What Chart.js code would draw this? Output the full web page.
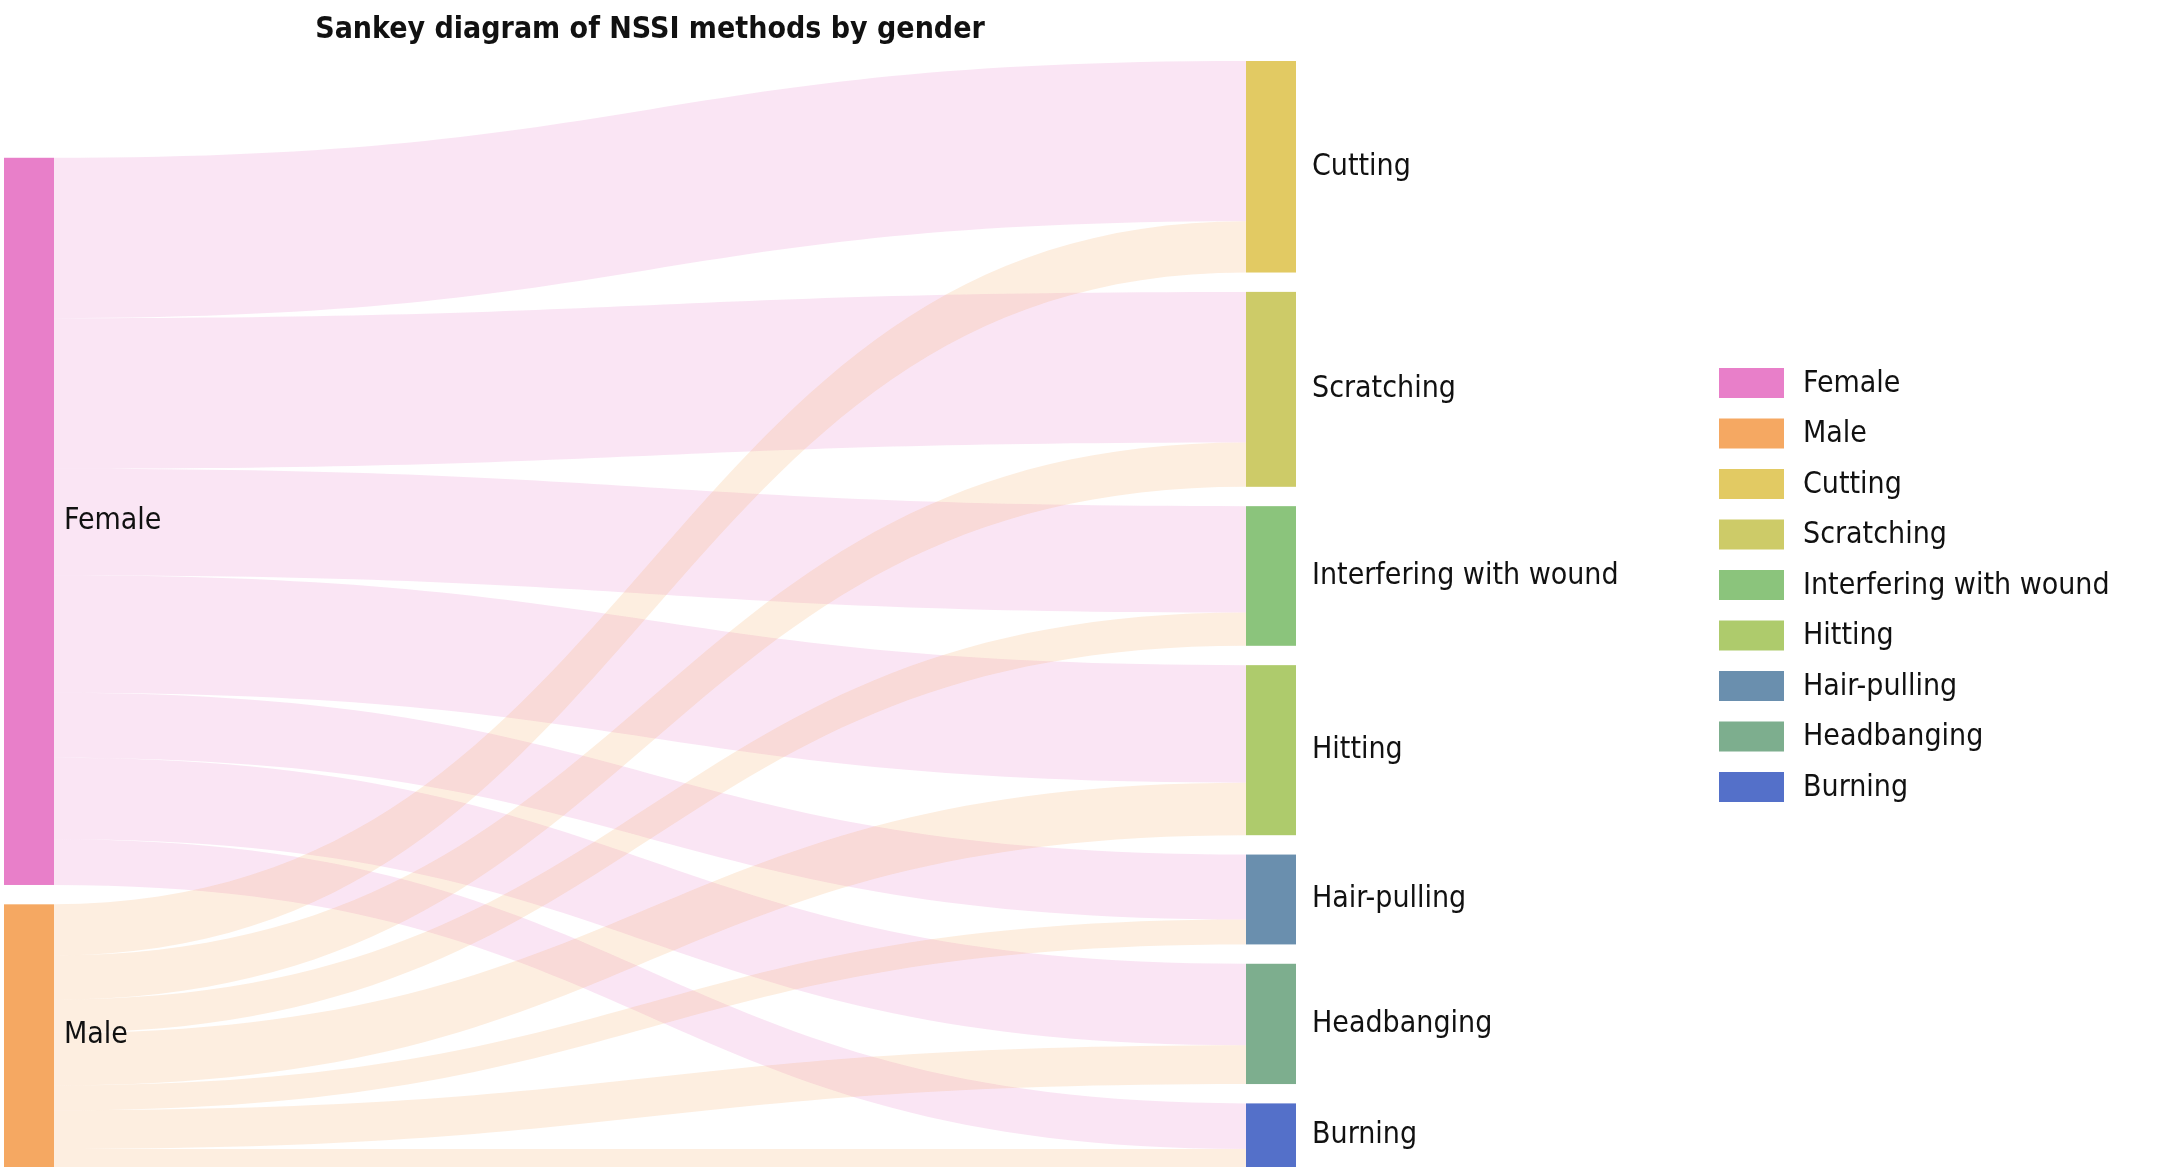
<!DOCTYPE html>
<html><head><meta charset="utf-8">
<script src="https://cdn.jsdelivr.net/npm/chart.js@4"></script>
<style>html,body{margin:0;padding:0;background:#fff}canvas{display:block}</style>
</head><body>
<canvas id="c" width="2157" height="1175"></canvas>
<script>
const sources = ["Female", "Male"];
const targets = ["Cutting", "Scratching", "Interfering with wound", "Hitting", "Hair-pulling", "Headbanging", "Burning"];
const femaleValues = [116, 109, 77, 85, 47, 59, 33];
const maleValues = [37, 32, 24, 38, 18, 28, 13];
const sourceColors = ["#E87FC9", "#F5A862"];
const targetColors = ["#E2CA63", "#CDCB68", "#8BC47C", "#AECB6C", "#6A8FAE", "#7DAE8E", "#5470C9"];
const linkColors = ["rgba(232,127,201,0.2)", "rgba(245,168,98,0.2)"];
const GAP = 14;

const flows = [femaleValues, maleValues];
const srcTotals = flows.map(a => a.reduce((s, v) => s + v, 0));
const tgtTotals = targets.map((_, j) => femaleValues[j] + maleValues[j]);
const rightSpan = tgtTotals.reduce((s, v) => s + v, 0) + GAP * (targets.length - 1);
const leftSpan = srcTotals.reduce((s, v) => s + v, 0) + GAP * (sources.length - 1);

const sankey = {
  id: 'sankey',
  afterDatasetsDraw(chart) {
    const ctx = chart.ctx, xs = chart.scales.x, ys = chart.scales.y;
    const X = v => xs.getPixelForValue(v), Y = v => ys.getPixelForValue(v);
    const nw = 0.0387;
    // node positions in value space
    const srcStart = []; let p = rightSpan - leftSpan;
    srcTotals.forEach(t => { srcStart.push(p); p += t + GAP; });
    const tgtStart = []; p = 0;
    tgtTotals.forEach(t => { tgtStart.push(p); p += t + GAP; });
    // links
    const srcOff = srcStart.slice(), tgtOff = tgtStart.slice();
    const x0 = X(nw), x1 = X(1 - nw), xm = (x0 + x1) / 2;
    for (let j = 0; j < targets.length; j++) {
      for (let i = 0; i < sources.length; i++) {
        const v = flows[i][j];
        const sa = Y(srcOff[i]), sb = Y(srcOff[i] + v);
        const ta = Y(tgtOff[j]), tb = Y(tgtOff[j] + v);
      }
    }
    // order: for each source, links go to targets in order; for each target, female first
    const sO = srcStart.slice(), tO = tgtStart.slice();
    const paths = [];
    for (let i = 0; i < sources.length; i++) {
      for (let j = 0; j < targets.length; j++) {
        paths.push({i, j, s: sO[i], v: flows[i][j]}); sO[i] += flows[i][j];
      }
    }
    for (let j = 0; j < targets.length; j++) {
      for (let i = 0; i < sources.length; i++) {
        paths.find(q => q.i === i && q.j === j).t = tO[j]; tO[j] += flows[i][j];
      }
    }
    paths.forEach(q => {
      const sa = Y(q.s), sb = Y(q.s + q.v), ta = Y(q.t), tb = Y(q.t + q.v);
      ctx.beginPath();
      ctx.moveTo(x0, sa);
      ctx.bezierCurveTo(xm, sa, xm, ta, x1, ta);
      ctx.lineTo(x1, tb);
      ctx.bezierCurveTo(xm, tb, xm, sb, x0, sb);
      ctx.closePath();
      ctx.fillStyle = linkColors[q.i];
      ctx.fill();
    });
    // nodes
    ctx.font = '30px "DejaVu Sans Condensed", "DejaVu Sans", sans-serif';
    ctx.textBaseline = 'middle'; ctx.fillStyle = '#111';
    sources.forEach((n, i) => {
      ctx.fillStyle = sourceColors[i];
      ctx.fillRect(X(0), Y(srcStart[i]), X(nw) - X(0), Y(srcStart[i] + srcTotals[i]) - Y(srcStart[i]));
      ctx.fillStyle = '#111';
      ctx.fillText(n, X(nw) + 10, Y(srcStart[i] + srcTotals[i] / 2));
    });
    targets.forEach((n, j) => {
      ctx.fillStyle = targetColors[j];
      ctx.fillRect(X(1 - nw), Y(tgtStart[j]), X(1) - X(1 - nw), Y(tgtStart[j] + tgtTotals[j]) - Y(tgtStart[j]));
      ctx.fillStyle = '#111';
      ctx.fillText(n, X(1) + 16, Y(tgtStart[j] + tgtTotals[j] / 2));
    });
    // legend
    const names = sources.concat(targets), cols = sourceColors.concat(targetColors);
    names.forEach((n, k) => {
      const cy = 383 + k * 50.5;
      ctx.fillStyle = cols[k];
      ctx.fillRect(1719, cy - 15, 65, 30);
      ctx.fillStyle = '#111';
      ctx.fillText(n, 1803, cy + 1);
    });
    // title
    ctx.font = 'bold 30px "DejaVu Sans Condensed", "DejaVu Sans", sans-serif';
    ctx.textAlign = 'center';
    ctx.fillText('Sankey diagram of NSSI methods by gender', 650, 30);
    ctx.textAlign = 'left';
  }
};

new Chart(document.getElementById('c'), {
  type: 'scatter',
  data: { datasets: [{ data: [] }] },
  options: {
    responsive: false, animation: false,
    layout: { padding: { left: 4, top: 61, right: 861, bottom: 8 } },
    plugins: { legend: { display: false }, tooltip: { enabled: false } },
    scales: {
      x: { type: 'linear', min: 0, max: 1, display: false },
      y: { type: 'linear', min: 0, max: rightSpan, reverse: true, display: false }
    }
  },
  plugins: [sankey]
});
</script>
</body></html>
